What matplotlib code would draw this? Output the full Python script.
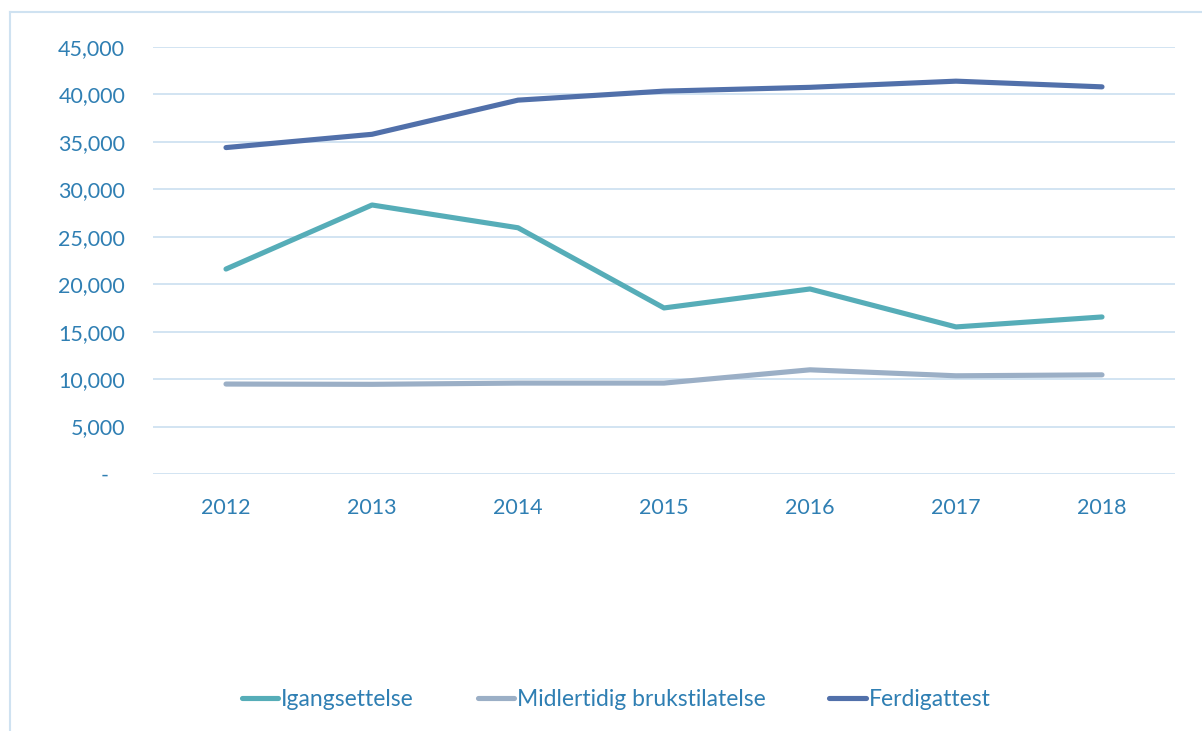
import matplotlib
matplotlib.use("Agg")
import matplotlib.pyplot as plt
from matplotlib.lines import Line2D
from matplotlib.ticker import FuncFormatter, MultipleLocator

years = ["2012", "2013", "2014", "2015", "2016", "2017", "2018"]
igangsettelse = [21600, 28350, 25950, 17500, 19500, 15500, 16550]
midlertidig = [9480, 9450, 9580, 9580, 10980, 10350, 10450]
ferdigattest = [34400, 35800, 39400, 40350, 40750, 41400, 40800]

series = [
    ("Igangsettelse", igangsettelse, "#56adb8"),
    ("Midlertidig brukstilatelse", midlertidig, "#9bafc6"),
    ("Ferdigattest", ferdigattest, "#5170aa"),
]

text_color = "#2f7fb3"
grid_color = "#cfe2f1"

plt.rcParams["font.family"] = ["Lato", "DejaVu Sans"]

fig = plt.figure(figsize=(12.02, 7.31), dpi=100)
ax = fig.add_axes([153 / 1202, 1 - 474 / 731, (1175 - 153) / 1202, (474 - 47) / 731])

x = list(range(len(years)))
for name, vals, col in series:
    ax.plot(x, vals, color=col, lw=3.7, solid_capstyle="round",
            solid_joinstyle="round", label=name)

ax.set_xlim(-0.5, len(years) - 0.5)
ax.set_ylim(0, 45000)
ax.yaxis.set_major_locator(MultipleLocator(5000))
ax.yaxis.set_major_formatter(FuncFormatter(
    lambda v, p: "-   " if v == 0 else "{:,.0f}".format(v)))
ax.set_xticks(x)
ax.set_xticklabels(years)
ax.grid(axis="y", color=grid_color, lw=1.3)
ax.set_axisbelow(True)
for s in ax.spines.values():
    s.set_visible(False)
ax.tick_params(axis="both", length=0, labelsize=15.5, labelcolor=text_color)
ax.tick_params(axis="y", pad=20)
ax.tick_params(axis="x", pad=17)

# outer chart border (top and left visible)
fig.add_artist(Line2D([10.5 / 1202, 10.5 / 1202], [0, 1 - 12 / 731],
                      color=grid_color, lw=1.5))
fig.add_artist(Line2D([10.5 / 1202, 1], [1 - 12 / 731, 1 - 12 / 731],
                      color=grid_color, lw=1.5))

fig.legend(loc="center", bbox_to_anchor=(616 / 1202, 1 - 700 / 731), ncol=3,
           frameon=False, fontsize=16.5, labelcolor=text_color,
           handlelength=1.6, handletextpad=0.1, columnspacing=2.8)

fig.savefig("out.png", dpi=100)
